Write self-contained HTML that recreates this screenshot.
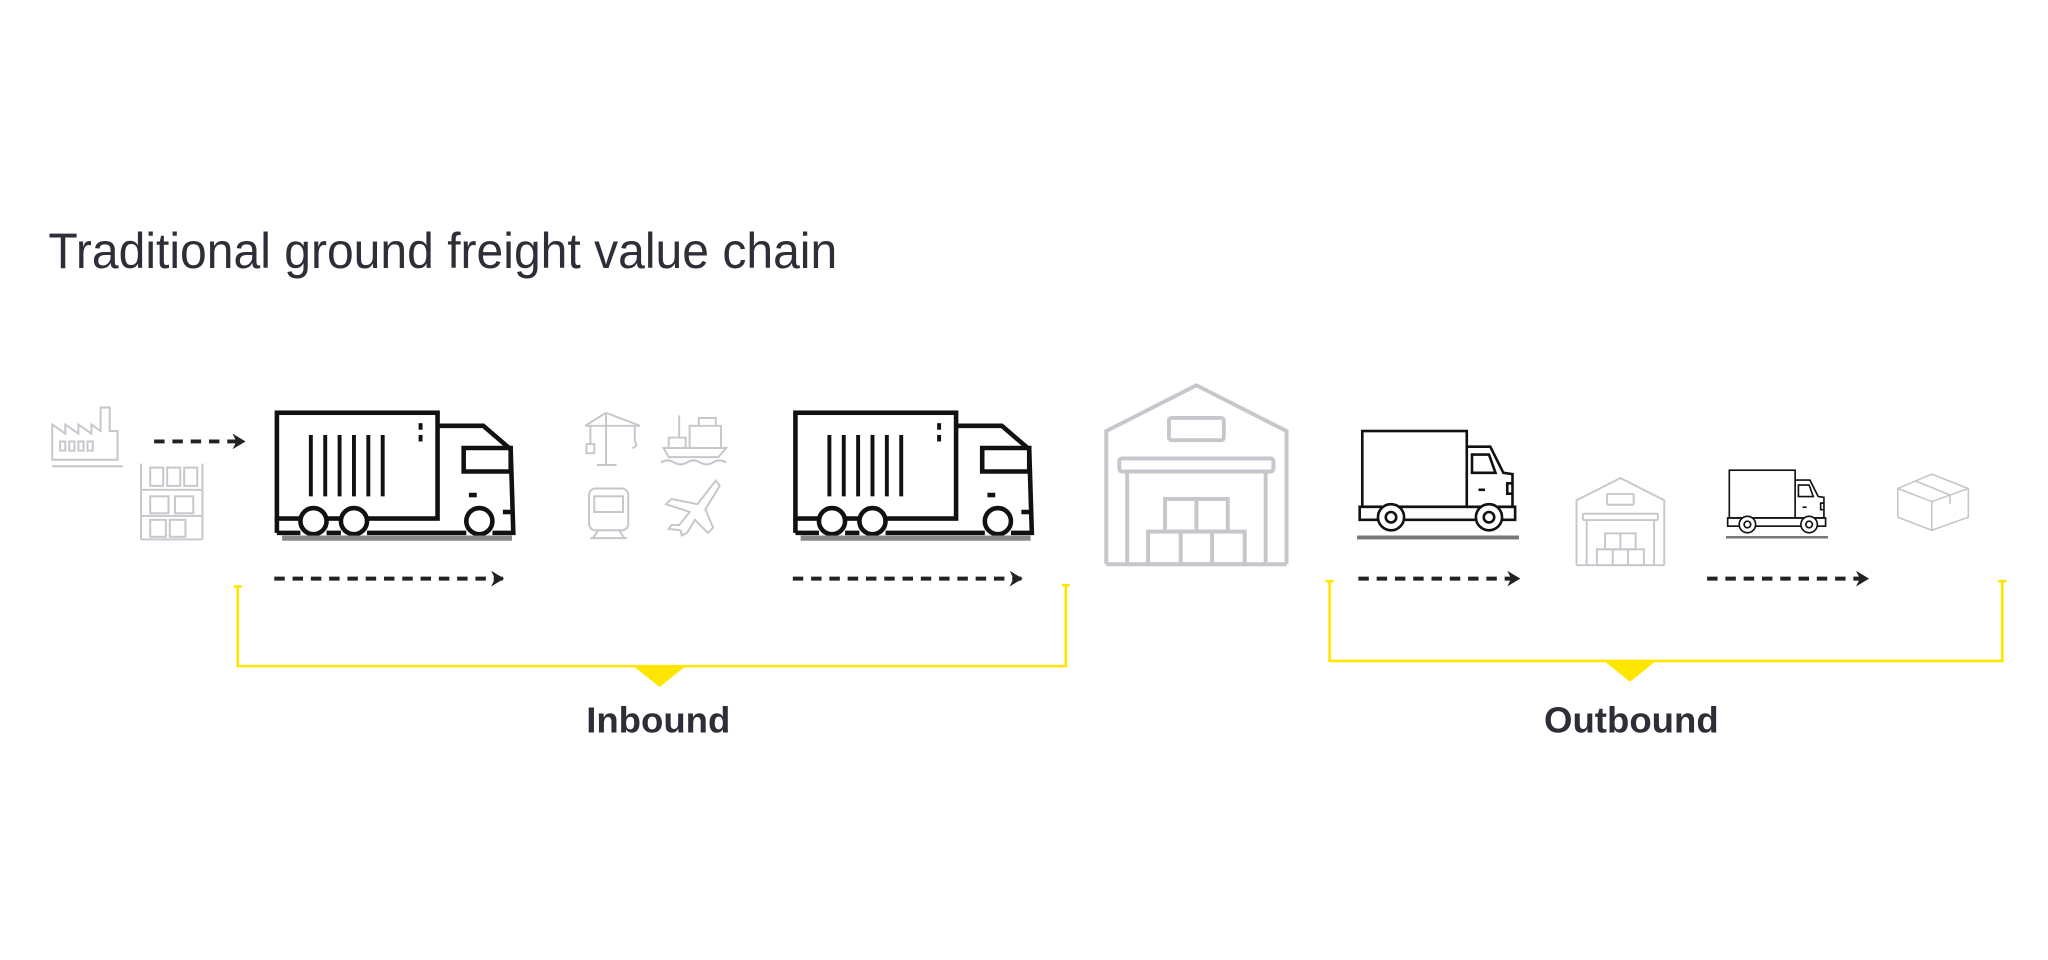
<!DOCTYPE html>
<html><head><meta charset="utf-8"><style>
html,body{margin:0;padding:0;background:#fff;}
svg{display:block;}
</style></head><body>
<svg width="2048" height="960" viewBox="0 0 1568 735" preserveAspectRatio="none" xmlns="http://www.w3.org/2000/svg">
<defs>
<g id="truck" fill="none" stroke="#111" stroke-width="3.5">
  <rect x="0" y="0" width="123" height="81"/>
  <g stroke-width="3">
  <line x1="26" y1="17" x2="26" y2="64"/><line x1="37" y1="17" x2="37" y2="64"/>
  <line x1="48" y1="17" x2="48" y2="64"/><line x1="59" y1="17" x2="59" y2="64"/>
  <line x1="70" y1="17" x2="70" y2="64"/><line x1="81" y1="17" x2="81" y2="64"/>
  <line x1="110" y1="8" x2="110" y2="13"/><line x1="110" y1="17" x2="110" y2="22"/>
  </g>
  <path d="M123 10 H158 L179 28 L181 92 H165"/>
  <path d="M143 27 H179 V45 H143 Z"/>
  <line x1="0" y1="92" x2="18" y2="92"/><line x1="38" y1="92" x2="49" y2="92"/>
  <line x1="69" y1="92" x2="145" y2="92"/>
  <line x1="0" y1="81" x2="0" y2="92"/>
  <line x1="147" y1="63" x2="153" y2="63"/>
  <line x1="173" y1="76" x2="181" y2="76"/>
  <circle cx="28" cy="83" r="10" fill="#fff"/><circle cx="59" cy="83" r="10" fill="#fff"/>
  <circle cx="155" cy="83" r="10" fill="#fff"/>
  <rect x="4" y="94" width="176" height="4" fill="#888" stroke="none"/>
</g>
<g id="van" fill="none" stroke="#111" stroke-width="2">
  <rect x="0" y="0" width="80" height="58"/>
  <path d="M80 12 H98 L108 32 L115 33 V58 H80"/>
  <path d="M84 18 H97 L102 32 H84 Z"/>
  <path d="M115 40 h-4 v8 h4"/>
  <line x1="89" y1="45" x2="94" y2="45"/>
  <rect x="-2" y="58" width="119" height="10" fill="none"/>
  <circle cx="22" cy="66" r="10" fill="#fff"/><circle cx="22" cy="66" r="4"/>
  <circle cx="97" cy="66" r="10" fill="#fff"/><circle cx="97" cy="66" r="4"/>
  <rect x="-4" y="80" width="124" height="3" fill="#777" stroke="none"/>
</g>
<g id="wh" fill="none" stroke="#c6c6cc" stroke-width="3">
  <path d="M0 137 V35 L69 0 L138 35 V137"/>
  <rect x="48" y="25" width="42" height="17" rx="2"/>
  <rect x="10" y="56" width="118" height="10" rx="2"/>
  <path d="M16 66 V137 M122 66 V137"/>
  <rect x="45" y="87" width="48" height="25"/><line x1="69" y1="87" x2="69" y2="112"/>
  <rect x="32" y="112" width="74" height="25"/><line x1="57" y1="112" x2="57" y2="137"/><line x1="81" y1="112" x2="81" y2="137"/>
  <line x1="0" y1="137" x2="138" y2="137"/>
</g>
<marker id="ah" markerWidth="12" markerHeight="12" refX="9" refY="6" orient="auto" markerUnits="userSpaceOnUse"><path d="M0 0 L10 6 L0 12 L3 6 Z" fill="#222"/></marker>
</defs>

<text x="37" y="205" font-family="Liberation Sans, sans-serif" font-size="38" fill="#2e2e38" textLength="604" lengthAdjust="spacingAndGlyphs">Traditional ground freight value chain</text>

<g fill="none" stroke="#c6c6cc" stroke-width="1.5">
  <path d="M40 357 H94 M40 352 V325 L50 332 V325 L60 332 V325 L70 332 V325 L77 330 V312 H84 V330 H90 V352 Z"/>
  <rect x="46" y="338" width="4" height="7"/><rect x="53" y="338" width="4" height="7"/><rect x="60" y="338" width="4" height="7"/><rect x="67" y="338" width="4" height="7"/>
  <path d="M108 355 V413 M155 355 V413 M108 375 H155 M108 395 H155 M108 413 H155"/>
  <rect x="115" y="358" width="10" height="14"/><rect x="128" y="358" width="10" height="14"/><rect x="141" y="358" width="10" height="14"/>
  <rect x="115" y="380" width="14" height="13"/><rect x="134" y="380" width="14" height="13"/>
  <rect x="115" y="398" width="12" height="13"/><rect x="130" y="398" width="12" height="13"/>
</g>
<line x1="118" y1="338" x2="187" y2="338" stroke="#222" stroke-width="3" stroke-dasharray="8,6" marker-end="url(#ah)"/>

<use href="#truck" x="212" y="316"/>
<use href="#truck" x="609" y="316"/>

<g fill="none" stroke="#c6c6cc" stroke-width="1.5">
  <path d="M464 356 V316 M448 326 H490 M464 316 L448 326 M464 316 L490 326 M452 326 V340 M486 326 V338 q3 4 -2 5"/><rect x="449" y="340" width="6" height="7"/><path d="M457 356 H472"/>
  <path d="M508 343 H556 L550 350 H512 Z M512 343 V335 H525 V343 M520 335 V318 M528 343 V326 H552 V343 M535 326 V320 H548 V326"/>
  <path d="M506 354 q5 -3 10 0 q5 3 10 0 q5 -3 10 0 q5 3 10 0 q5 -3 10 0"/>
  <rect x="451" y="374" width="30" height="32" rx="5"/><rect x="455" y="380" width="22" height="12"/><path d="M454 412 L458 406 M478 412 L474 406 M452 412 H480"/>
  <path d="M548 368 L534 386 L514 382 L510 386 L528 392 L520 402 L514 402 L512 405 L521 406 L522 410 L526 408 L532 398 L542 408 L546 404 L540 390 L551 372 Z"/>
</g>
<line x1="210" y1="443" x2="385" y2="443" stroke="#222" stroke-width="3" stroke-dasharray="8,6" marker-end="url(#ah)"/>
<line x1="607" y1="443" x2="782" y2="443" stroke="#222" stroke-width="3" stroke-dasharray="8,6" marker-end="url(#ah)"/>

<use href="#wh" x="847" y="295"/>

<use href="#van" x="1043" y="330"/>
<g transform="translate(1207,366) scale(0.487)"><use href="#wh"/></g>
<g transform="translate(1324,360) scale(0.63)"><use href="#van"/></g>
<g fill="none" stroke="#c6c6cc" stroke-width="1.2">
  <path d="M1479 363 L1507 374 V396 L1479 406 L1453 396 V374 Z M1453 374 L1479 384 L1507 374 M1479 384 V406 M1466 368 L1493 379 V386"/>
</g>

<line x1="1040" y1="443" x2="1163" y2="443" stroke="#222" stroke-width="3" stroke-dasharray="8,6" marker-end="url(#ah)"/>
<line x1="1307" y1="443" x2="1430" y2="443" stroke="#222" stroke-width="3" stroke-dasharray="8,6" marker-end="url(#ah)"/>

<g fill="none" stroke="#ffe600" stroke-width="2">
  <path d="M182 449 V510 H816 V448"/>
  <path d="M179 449 H185 M813 448 H819"/>
  <path d="M1018 445 V506 H1533 V445"/>
  <path d="M1015 445 H1021 M1530 445 H1536"/>
</g>
<path d="M485 510 H525 L505 526 Z" fill="#ffe600"/>
<path d="M1228 506 H1268 L1248 522 Z" fill="#ffe600"/>

<text x="504" y="561" text-anchor="middle" font-family="Liberation Sans, sans-serif" font-weight="bold" font-size="28" fill="#2e2e38">Inbound</text>
<text x="1249" y="561" text-anchor="middle" font-family="Liberation Sans, sans-serif" font-weight="bold" font-size="28" fill="#2e2e38">Outbound</text>
</svg>
</body></html>
